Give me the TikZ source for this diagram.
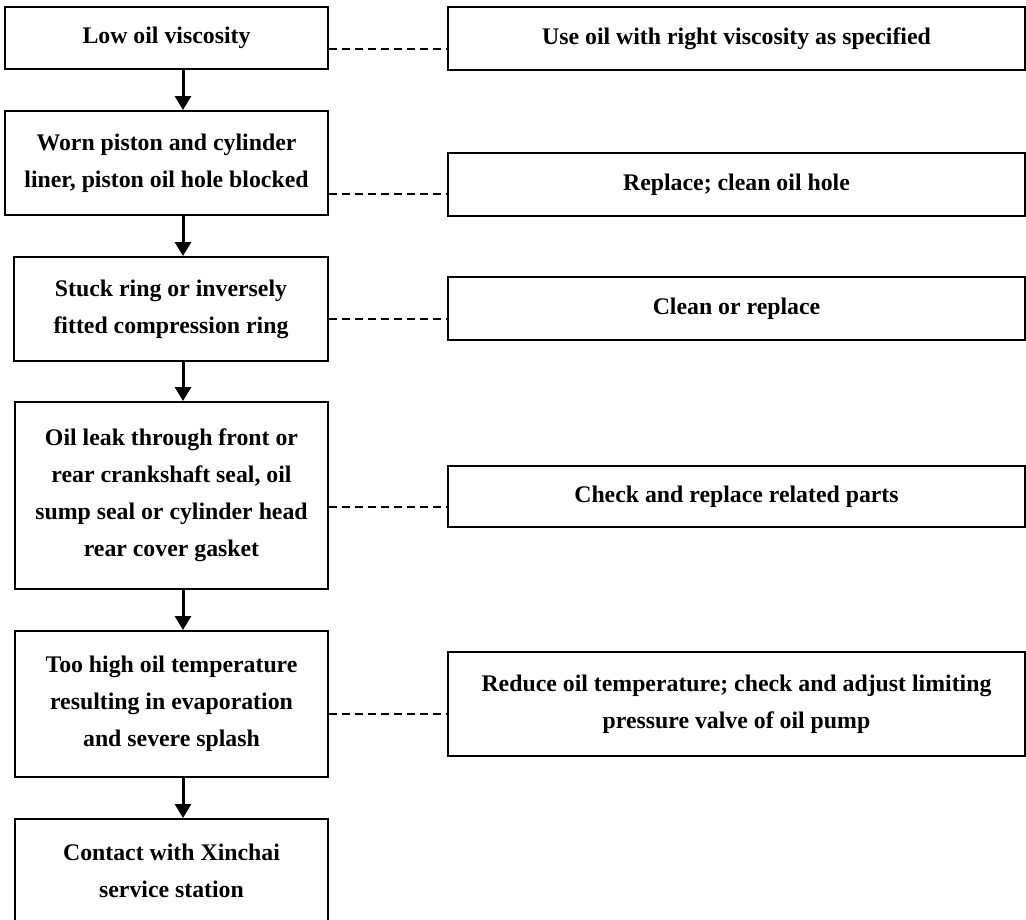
\documentclass[tikz,border=0pt]{standalone}
\usepackage{fontspec}
\setmainfont{Liberation Serif}
\usetikzlibrary{arrows.meta}
\begin{document}
\begin{tikzpicture}[x=1pt,y=-1pt,
  box/.style={draw, line width=2pt, rectangle, inner sep=0pt, align=center,
    font=\fontsize{23.8}{37}\selectfont\bfseries},
  flow/.style={line width=3pt, -{Triangle[length=14pt,width=16pt]}},
  link/.style={line width=2pt, dash pattern=on 8pt off 5pt}]
\useasboundingbox (0,0) rectangle (1026,919);
% left column
\node[box, minimum width=323pt, minimum height=62pt] (L1) at (166.5,38) {Low oil viscosity};
\node[box, minimum width=323pt, minimum height=104pt] (L2) at (166.5,163) {Worn piston and cylinder\\liner, piston oil hole blocked};
\node[box, minimum width=314pt, minimum height=104pt] (L3) at (171,309) {Stuck ring or inversely\\fitted compression ring};
\node[box, minimum width=313pt, minimum height=187pt] (L4) at (171.5,495.5) {Oil leak through front or\\rear crankshaft seal, oil\\sump seal or cylinder head\\rear cover gasket};
\node[box, minimum width=313pt, minimum height=146pt] (L5) at (171.5,704) {Too high oil temperature\\resulting in evaporation\\and severe splash};
\node[box, minimum width=313pt, minimum height=104pt] (L6) at (171.5,871) {Contact with Xinchai\\service station};
% right column
\node[box, minimum width=577pt, minimum height=63pt] (R1) at (736.5,38.5) {Use oil with right viscosity as specified};
\node[box, minimum width=577pt, minimum height=63pt] (R2) at (736.5,184.5) {Replace; clean oil hole};
\node[box, minimum width=577pt, minimum height=63pt] (R3) at (736.5,308.5) {Clean or replace};
\node[box, minimum width=577pt, minimum height=61pt] (R4) at (736.5,496.5) {Check and replace related parts};
\node[box, minimum width=577pt, minimum height=104pt] (R5) at (736.5,704) {Reduce oil temperature; check and adjust limiting\\pressure valve of oil pump};
% helper coordinates
\coordinate (ax) at (183,0);
\coordinate (d1) at (0,49);
\coordinate (d2) at (0,194);
\coordinate (d3) at (0,319);
\coordinate (d4) at (0,507);
\coordinate (d5) at (0,714);
% flow arrows
\draw[flow] (L1.south -| ax) -- (L2.north -| ax);
\draw[flow] (L2.south -| ax) -- (L3.north -| ax);
\draw[flow] (L3.south -| ax) -- (L4.north -| ax);
\draw[flow] (L4.south -| ax) -- (L5.north -| ax);
\draw[flow] (L5.south -| ax) -- (L6.north -| ax);
% dashed links
\draw[link] (L1.east |- d1) -- (R1.west |- d1);
\draw[link] (L2.east |- d2) -- (R2.west |- d2);
\draw[link] (L3.east |- d3) -- (R3.west |- d3);
\draw[link] (L4.east |- d4) -- (R4.west |- d4);
\draw[link] (L5.east |- d5) -- (R5.west |- d5);
\end{tikzpicture}
\end{document}
